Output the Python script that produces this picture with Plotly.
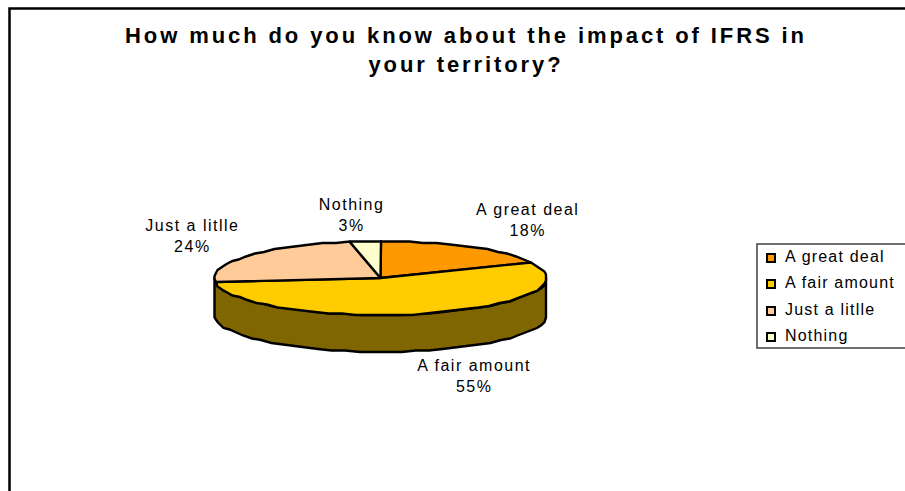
import math
import plotly.graph_objects as go

# Survey responses
categories = ["A great deal", "A fair amount", "Just a litlle", "Nothing"]
percentages = [18, 55, 24, 3]
colors = ["#FF9900", "#FFCC00", "#FFCC99", "#FFFFCC"]
side_color = "#806600"
title_text = "How much do you know about the impact of IFRS in<br>your territory?"

W, H = 905, 491
CX, CY, RX, RY, DEPTH = 380.5, 278, 166, 37, 37
STEP_DEG = 5
GRID = 1.5  # the rim is drawn on a coarse grid, giving it a slightly stepped edge


def rim(a_deg):
    """Point on the top ellipse, angle measured clockwise from twelve o'clock."""
    a = math.radians(a_deg)
    x = CX + RX * math.sin(a)
    y = CY - RY * math.cos(a)
    return round(x / GRID) * GRID, round(y / GRID) * GRID


def arc(a0, a1):
    n = max(2, int(abs(a1 - a0) / STEP_DEG) + 1)
    return [rim(a0 + (a1 - a0) * i / n) for i in range(n + 1)]


fig = go.Figure()

# Visible outer wall of the disc: the front half of the rim pushed down by the depth
front = arc(90, 270)
wall = front + [(x, y + DEPTH) for x, y in reversed(front)]
wall.append(wall[0])
fig.add_trace(go.Scatter(
    x=[p[0] for p in wall], y=[p[1] for p in wall], mode="lines", fill="toself",
    fillcolor=side_color, line=dict(color="black", width=2.4), hoverinfo="skip"))

# Top face wedges, sized from the percentages
total = sum(percentages)
start = 0.0
for name, pct, col in zip(categories, percentages, colors):
    end = start + 360.0 * pct / total
    pts = [(CX, CY)] + arc(start, end) + [(CX, CY)]
    fig.add_trace(go.Scatter(
        x=[p[0] for p in pts], y=[p[1] for p in pts], mode="lines", fill="toself",
        fillcolor=col, line=dict(color="black", width=2.4), name=name))
    start = end

# Legend swatches and their labels
LEG_Y = [258, 284, 311, 337]
fig.add_trace(go.Scatter(
    x=[771] * 4, y=LEG_Y, mode="markers",
    marker=dict(symbol="square", size=8, color=colors, line=dict(color="black", width=2)),
    hoverinfo="skip"))
fig.add_trace(go.Scatter(
    x=[785] * 4, y=LEG_Y, mode="text", text=categories, textposition="middle right",
    textfont=dict(family="Liberation Sans", size=16, color="black"), hoverinfo="skip"))

# Slice labels
LABEL_XY = [(527, 220), (474, 376), (192, 236), (351, 215)]
annotations = [
    dict(x=x, y=y, xref="x", yref="y", showarrow=False, align="center",
         text=f"{c}<br>{p}%", font=dict(family="Liberation Sans", size=16, color="black"))
    for (x, y), c, p in zip(LABEL_XY, categories, percentages)
]

fig.update_layout(
    width=W, height=H, margin=dict(l=0, r=0, t=0, b=0),
    paper_bgcolor="white", plot_bgcolor="white", showlegend=False,
    title=dict(text=title_text, x=466 / W, xanchor="center", y=1 - 43 / H, yanchor="top",
               font=dict(family="Liberation Sans", size=22, color="black", weight="bold")),
    xaxis=dict(range=[0, W], visible=False, fixedrange=True),
    yaxis=dict(range=[H, 0], visible=False, fixedrange=True),
    annotations=annotations,
    shapes=[
        # Chart area frame
        dict(type="path", path="M 9.5 491 L 9.5 8.5 L 905 8.5", xref="x", yref="y",
             line=dict(color="black", width=2.5)),
        # Legend box
        dict(type="rect", x0=757, x1=920, y0=244, y1=348, xref="x", yref="y",
             line=dict(color="#404040", width=1.5)),
    ],
)

# Wide tracking of the lettering
spacing = """
document.querySelectorAll('.gtitle').forEach(t => t.style.letterSpacing = '2.9px');
document.querySelectorAll('.annotation-text').forEach(t => t.style.letterSpacing = '1.5px');
document.querySelectorAll('.textpoint text').forEach(t => t.style.letterSpacing = '1.2px');
"""
fig.write_html("out.html", post_script=spacing, config={"displayModeBar": False})
